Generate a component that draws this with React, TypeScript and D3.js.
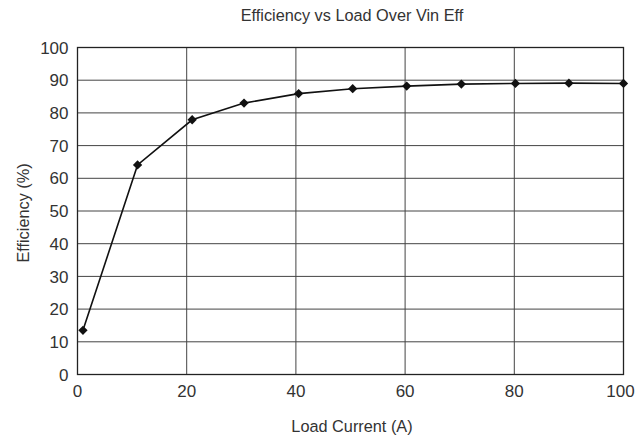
import { useRef, useEffect } from "react";
import * as d3 from "d3";

const LOAD = [1, 11, 21, 30.5, 40.5, 50.4, 60.3, 70.3, 80.2, 90, 100];
const EFFICIENCY = [13.5, 64.1, 77.9, 83, 85.9, 87.4, 88.2, 88.8, 89, 89.1, 89];
const X_TICKS = [0, 20, 40, 60, 80, 100];
const Y_TICKS = [0, 10, 20, 30, 40, 50, 60, 70, 80, 90, 100];

const WIDTH = 636;
const HEIGHT = 441;
const MARGIN = { top: 47.5, right: 12.5, bottom: 66.5, left: 77.5 };
const FONT = "'Liberation Sans', Arial, sans-serif";
const TEXT = "#333";

export default function App() {
  const svgRef = useRef<SVGSVGElement>(null);

  useEffect(() => {
    const svg = svgRef.current;
    if (!svg) return;
    const w = WIDTH - MARGIN.left - MARGIN.right;
    const h = HEIGHT - MARGIN.top - MARGIN.bottom;

    const root = d3.select(svg);
    root.selectAll("*").remove();

    const x = d3.scaleLinear().domain([0, 100]).range([0, w]);
    const y = d3.scaleLinear().domain([0, 100]).range([h, 0]);

    const g = root
      .append("g")
      .attr("transform", `translate(${MARGIN.left},${MARGIN.top})`);

    // grid + tick labels
    for (const t of Y_TICKS) {
      g.append("line")
        .attr("x1", 0)
        .attr("x2", w)
        .attr("y1", y(t))
        .attr("y2", y(t))
        .attr("stroke", "#444")
        .attr("stroke-width", 1);
      g.append("text")
        .attr("x", -9)
        .attr("y", y(t))
        .attr("dy", "0.36em")
        .attr("text-anchor", "end")
        .attr("fill", TEXT)
        .attr("font-family", FONT)
        .attr("font-size", 17)
        .text(t);
    }
    for (const t of X_TICKS) {
      g.append("line")
        .attr("x1", x(t))
        .attr("x2", x(t))
        .attr("y1", 0)
        .attr("y2", h)
        .attr("stroke", "#444")
        .attr("stroke-width", 1);
      // last label sits a little inward so it stays on the page
      const shift = t === 100 ? -3 : 0;
      g.append("text")
        .attr("x", x(t) + shift)
        .attr("y", h + 22)
        .attr("text-anchor", "middle")
        .attr("fill", TEXT)
        .attr("font-family", FONT)
        .attr("font-size", 17)
        .text(t);
    }

    // frame
    g.append("rect")
      .attr("width", w)
      .attr("height", h)
      .attr("fill", "none")
      .attr("stroke", "#222")
      .attr("stroke-width", 1.3);

    const pts = LOAD.map((l, i) => [l, EFFICIENCY[i]] as [number, number]);
    const line = d3
      .line<[number, number]>()
      .x((d) => x(d[0]))
      .y((d) => y(d[1]));

    g.append("path")
      .datum(pts)
      .attr("d", line)
      .attr("fill", "none")
      .attr("stroke", "#111")
      .attr("stroke-width", 1.6);

    const diamond = d3.symbol().type(d3.symbolDiamond2).size(55);
    for (const p of pts) {
      g.append("path")
        .attr("d", diamond()!)
        .attr("transform", `translate(${x(p[0])},${y(p[1])})`)
        .attr("fill", "#111");
    }

    // titles
    root
      .append("text")
      .attr("x", 352)
      .attr("y", 21)
      .attr("text-anchor", "middle")
      .attr("fill", TEXT)
      .attr("font-family", FONT)
      .attr("font-size", 16.3)
      .text("Efficiency vs Load Over Vin Eff");

    root
      .append("text")
      .attr("x", 352)
      .attr("y", 432)
      .attr("text-anchor", "middle")
      .attr("fill", TEXT)
      .attr("font-family", FONT)
      .attr("font-size", 16.3)
      .text("Load Current (A)");

    root
      .append("text")
      .attr("transform", `translate(29,213) rotate(-90)`)
      .attr("text-anchor", "middle")
      .attr("fill", TEXT)
      .attr("font-family", FONT)
      .attr("font-size", 16.3)
      .text("Efficiency (%)");
  }, []);

  return (
    <svg
      ref={svgRef}
      width={WIDTH}
      height={HEIGHT}
      style={{ position: "absolute", left: 0, top: 0, background: "#fff" }}
    />
  );
}
